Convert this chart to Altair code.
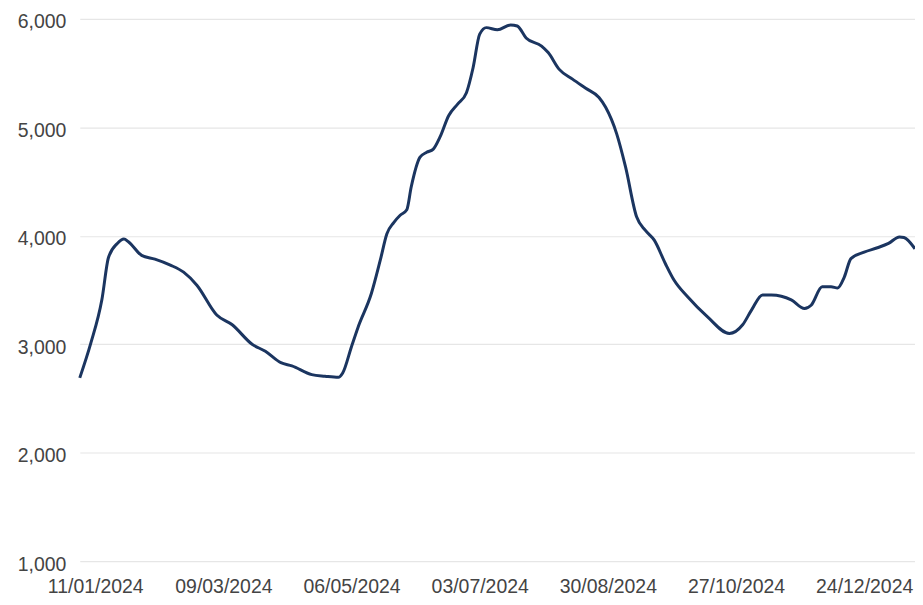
import altair as alt
import pandas as pd

dates = [
    "2024-01-04", "2024-01-09", "2024-01-14", "2024-01-17", "2024-01-21", "2024-01-24",
    "2024-01-26", "2024-02-01", "2024-02-07", "2024-02-14", "2024-02-20", "2024-02-26",
    "2024-03-06", "2024-03-13", "2024-03-22", "2024-03-28", "2024-04-04", "2024-04-09",
    "2024-04-18", "2024-04-24", "2024-04-30", "2024-05-02", "2024-05-06", "2024-05-09",
    "2024-05-15", "2024-05-19", "2024-05-22", "2024-05-25", "2024-05-28", "2024-05-31",
    "2024-06-02", "2024-06-06", "2024-06-09", "2024-06-12", "2024-06-15", "2024-06-19",
    "2024-06-23", "2024-06-27", "2024-06-30", "2024-07-03", "2024-07-06", "2024-07-11",
    "2024-07-17", "2024-07-20", "2024-07-24", "2024-07-31", "2024-08-03", "2024-08-08",
    "2024-08-14", "2024-08-20", "2024-08-26", "2024-08-29", "2024-09-03", "2024-09-07",
    "2024-09-12", "2024-09-16", "2024-09-20", "2024-09-25", "2024-09-29", "2024-10-05",
    "2024-10-14", "2024-10-24", "2024-10-30", "2024-11-03", "2024-11-08", "2024-11-12",
    "2024-11-21", "2024-11-27", "2024-11-30", "2024-12-05", "2024-12-09", "2024-12-12",
    "2024-12-15", "2024-12-18", "2024-12-24", "2024-12-30", "2025-01-04", "2025-01-09",
    "2025-01-11", "2025-01-16",
]
values = [
    2690, 3010, 3410, 3800, 3930, 3970,
    3945, 3820, 3785, 3730, 3665, 3545,
    3270, 3180, 3000, 2935, 2830, 2800,
    2720, 2705, 2695, 2735, 2980, 3160,
    3470, 3775, 4020, 4120, 4190, 4240,
    4450, 4725, 4770, 4800, 4910, 5110,
    5215, 5320, 5550, 5860, 5920, 5900,
    5945, 5935, 5825, 5750, 5690, 5535,
    5445, 5360, 5275, 5185, 4940, 4635,
    4175, 4050, 3960, 3745, 3590, 3440,
    3255, 3100, 3180, 3315, 3455, 3455,
    3410, 3330, 3360, 3530, 3530, 3520,
    3620, 3790, 3850, 3890, 3930, 3990,
    3985, 3880,
]
tick_dates = ["2024-01-11", "2024-03-09", "2024-05-06", "2024-07-03",
              "2024-08-30", "2024-10-27", "2024-12-24"]
y_ticks = [1000, 2000, 3000, 4000, 5000, 6000]

df = pd.DataFrame({"date": dates, "value": values})

tick_vals = [alt.DateTime(year=int(d[:4]), month=int(d[5:7]), date=int(d[8:10])) for d in tick_dates]

chart = alt.Chart(df).mark_line(
    color="#1b3560", strokeWidth=3, interpolate="monotone"
).encode(
    x=alt.X("date:T",
            scale=alt.Scale(domain=[alt.DateTime(year=2024, month=1, date=4),
                                    alt.DateTime(year=2025, month=1, date=16)]),
            axis=alt.Axis(values=tick_vals, format="%d/%m/%Y", title=None,
                          grid=False, domain=False, ticks=False,
                          labelFontSize=19.5, labelFont="Liberation Sans",
                          labelColor="#444444", labelPadding=16,
                          labelOverlap=False, labelBound=False, labelFlush=False)),
    y=alt.Y("value:Q",
            scale=alt.Scale(domain=[1000, 6000], nice=False, zero=False),
            axis=alt.Axis(values=y_ticks, format=",d", title=None,
                          domain=False, ticks=False, gridColor="#e6e6e6",
                          gridWidth=1.2, labelOffset=3,
                          labelFontSize=19.5, labelFont="Liberation Sans",
                          labelColor="#444444", labelPadding=14)),
).properties(
    width=838, height=544,
    autosize=alt.AutoSizeParams(type="none"),
    padding={"left": 72, "top": 10, "right": 0, "bottom": 42},
).configure_view(stroke=None)

chart.save("out.html", embed_options={"renderer": "svg", "actions": False})
